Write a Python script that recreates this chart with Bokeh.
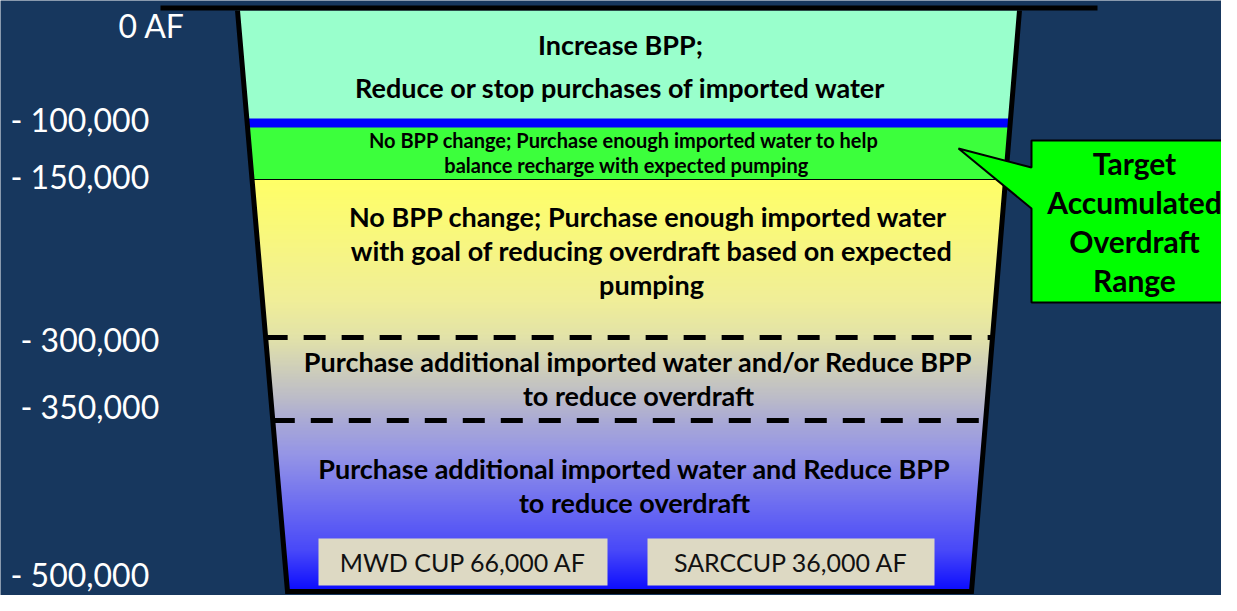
import numpy as np
from bokeh.plotting import figure
from bokeh.models import Range1d, ColumnDataSource
from bokeh.core.properties import value
from bokeh.embed import file_html
from bokeh.resources import INLINE

# ---------------- data ----------------
level_af = [0, -100000, -150000, -300000, -350000, -500000]
level_labels = ["0 AF", "- 100,000", "- 150,000", "- 300,000", "- 350,000", "- 500,000"]

band_text = [
    ["Increase BPP;", "Reduce or stop purchases of imported water"],
    ["No BPP change;  Purchase enough imported water to help",
     "balance recharge with expected pumping"],
    ["No BPP change;  Purchase enough imported water",
     "with goal of reducing overdraft based on expected", "pumping"],
    ["Purchase additional imported water and/or Reduce BPP", "to reduce overdraft"],
    ["Purchase additional imported water and Reduce BPP", "to reduce overdraft"],
]
storage_programs = ["MWD CUP", "SARCCUP"]
storage_af = [66000, 36000]
callout_lines = ["Target", "Accumulated", "Overdraft", "Range"]

# ---------------- layout (schematic, not to scale) ----------------
BG = "#17375E"
FONT = "Lato"
W, H = 1221, 595
level_px = [10, 122.5, 179, 337, 420, 591]      # schematic depth of each level


def depth(af):
    return float(np.interp(-af, [-v for v in level_af], level_px))


TOP, BOT = depth(level_af[0]), depth(level_af[-1])
XL_TOP, XL_BOT = 237, 287
XR_TOP, XR_BOT = 1019, 971


def xl(y):
    return XL_TOP + (XL_BOT - XL_TOP) * (y - TOP) / (BOT - TOP)


def xr(y):
    return XR_TOP + (XR_BOT - XR_TOP) * (y - TOP) / (BOT - TOP)


def slab(y0, y1):
    return [xl(y0), xr(y0), xr(y1), xl(y1)], [y0, y0, y1, y1]


p = figure(width=W, height=H, output_backend="svg", toolbar_location=None,
           x_range=Range1d(0, W), y_range=Range1d(H, 0),
           x_axis_location=None, y_axis_location=None, min_border=0,
           background_fill_color=BG, border_fill_color=BG, outline_line_color=None)
p.grid.visible = False

# solid bands
solid = [(level_af[0], level_af[1], "#99FFCC"), (level_af[1], level_af[2], "#3CFF3C")]
xs, ys, cs = [], [], []
for a, b, c in solid:
    x, y = slab(depth(a), depth(b))
    xs.append(x); ys.append(y); cs.append(c)

# gradient bands (-150k .. -500k)
stops_y = [179, 300, 337, 365, 395, 422, 455, 500, 550, 591]
stops_c = ["#FFFF66", "#F0EE98", "#E2E2A8", "#D0D0B8", "#BDBDC6",
           "#A8A8D6", "#9494E6", "#7070F0", "#4848F8", "#0A0AFF"]
rgb = np.array([[int(c[i:i + 2], 16) for i in (1, 3, 5)] for c in stops_c])
g0, g1 = depth(level_af[2]), BOT
step = 2.0
yy = np.arange(g0, g1, step)
for y in yy:
    y1 = min(y + step + 0.6, g1)
    col = [int(round(np.interp(y + step / 2, stops_y, rgb[:, k]))) for k in range(3)]
    x, yv = slab(y, y1)
    xs.append(x); ys.append(yv); cs.append("#%02x%02x%02x" % tuple(col))
p.patches(xs, ys, fill_color=cs, line_color=None)

# -100k marker line (blue) and -150k thin line
yb = depth(level_af[1])
p.patch(*slab(yb - 4.5, yb + 4.5), fill_color="#0000FF", line_color=None)
yg = depth(level_af[2])
p.line([xl(yg), xr(yg)], [yg, yg], line_color="black", line_width=1)

# dashed lines at -300k and -350k
for lv in (level_af[3], level_af[4]):
    yd = depth(lv)
    p.line([xl(yd), xr(yd)], [yd, yd], line_color="black", line_width=5,
           line_dash="22 16")

# bucket outline and top rim
p.line([XL_TOP, XL_BOT, XR_BOT, XR_TOP], [TOP, BOT, BOT, TOP],
       line_color="black", line_width=5, line_join="miter")
p.line([160, 1097], [7.5, 7.5], line_color="black", line_width=5)

# band texts (y = visual centre of each line)
text_cx = [620, 626, 651, 638, 634]
text_mid = [44, 139.5, 215.5, 360.5, 468]
text_step = [42.5, 24.5, 34, 34, 34]
text_size = ["27px", "20px", "27px", "27px", "27px"]
for i, lines in enumerate(band_text):
    src = ColumnDataSource(dict(
        x=[text_cx[i]] * len(lines),
        y=[text_mid[i] + k * text_step[i] for k in range(len(lines))],
        t=lines))
    p.text("x", "y", text="t", source=src, text_font=value(FONT),
           text_font_style="bold", text_font_size=text_size[i],
           text_align="center", text_baseline="middle", text_color="black")

# storage boxes
box_l = [318, 647]
box_r = [607, 934]
p.quad(left=box_l, right=box_r, top=[538, 538], bottom=[585, 585],
       fill_color="#DDD9C3", line_color=None)
labels = ["%s %s AF" % (n, f"{v:,}") for n, v in zip(storage_programs, storage_af)]
p.text([(l + r) / 2 for l, r in zip(box_l, box_r)], [561, 561], text=labels,
       text_font=value(FONT), text_font_size="25px", text_align="center",
       text_baseline="middle", text_color="#111111")

# level labels (left)
lab_x = [118, 10, 10, 20, 20, 10]
lab_mid = [25, 119, 175.5, 339, 405.5, 574]
p.text(lab_x, lab_mid, text=level_labels, text_font=value(FONT),
       text_font_size="32px", text_align="left", text_baseline="middle",
       text_color="white")

# callout
cx = [1031, 1031, 958, 1031, 1031, 1235, 1235]
cy = [140, 167, 148, 208, 302, 302, 140]
p.patch(cx, cy, fill_color="#00FF00", line_color="black", line_width=2)
p.text([1134] * 4, [162 + k * 39 for k in range(4)], text=callout_lines,
       text_font=value(FONT), text_font_style="bold", text_font_size="30px",
       text_align="center", text_baseline="middle", text_color="black")

open("out.html", "w").write(file_html(p, INLINE))
